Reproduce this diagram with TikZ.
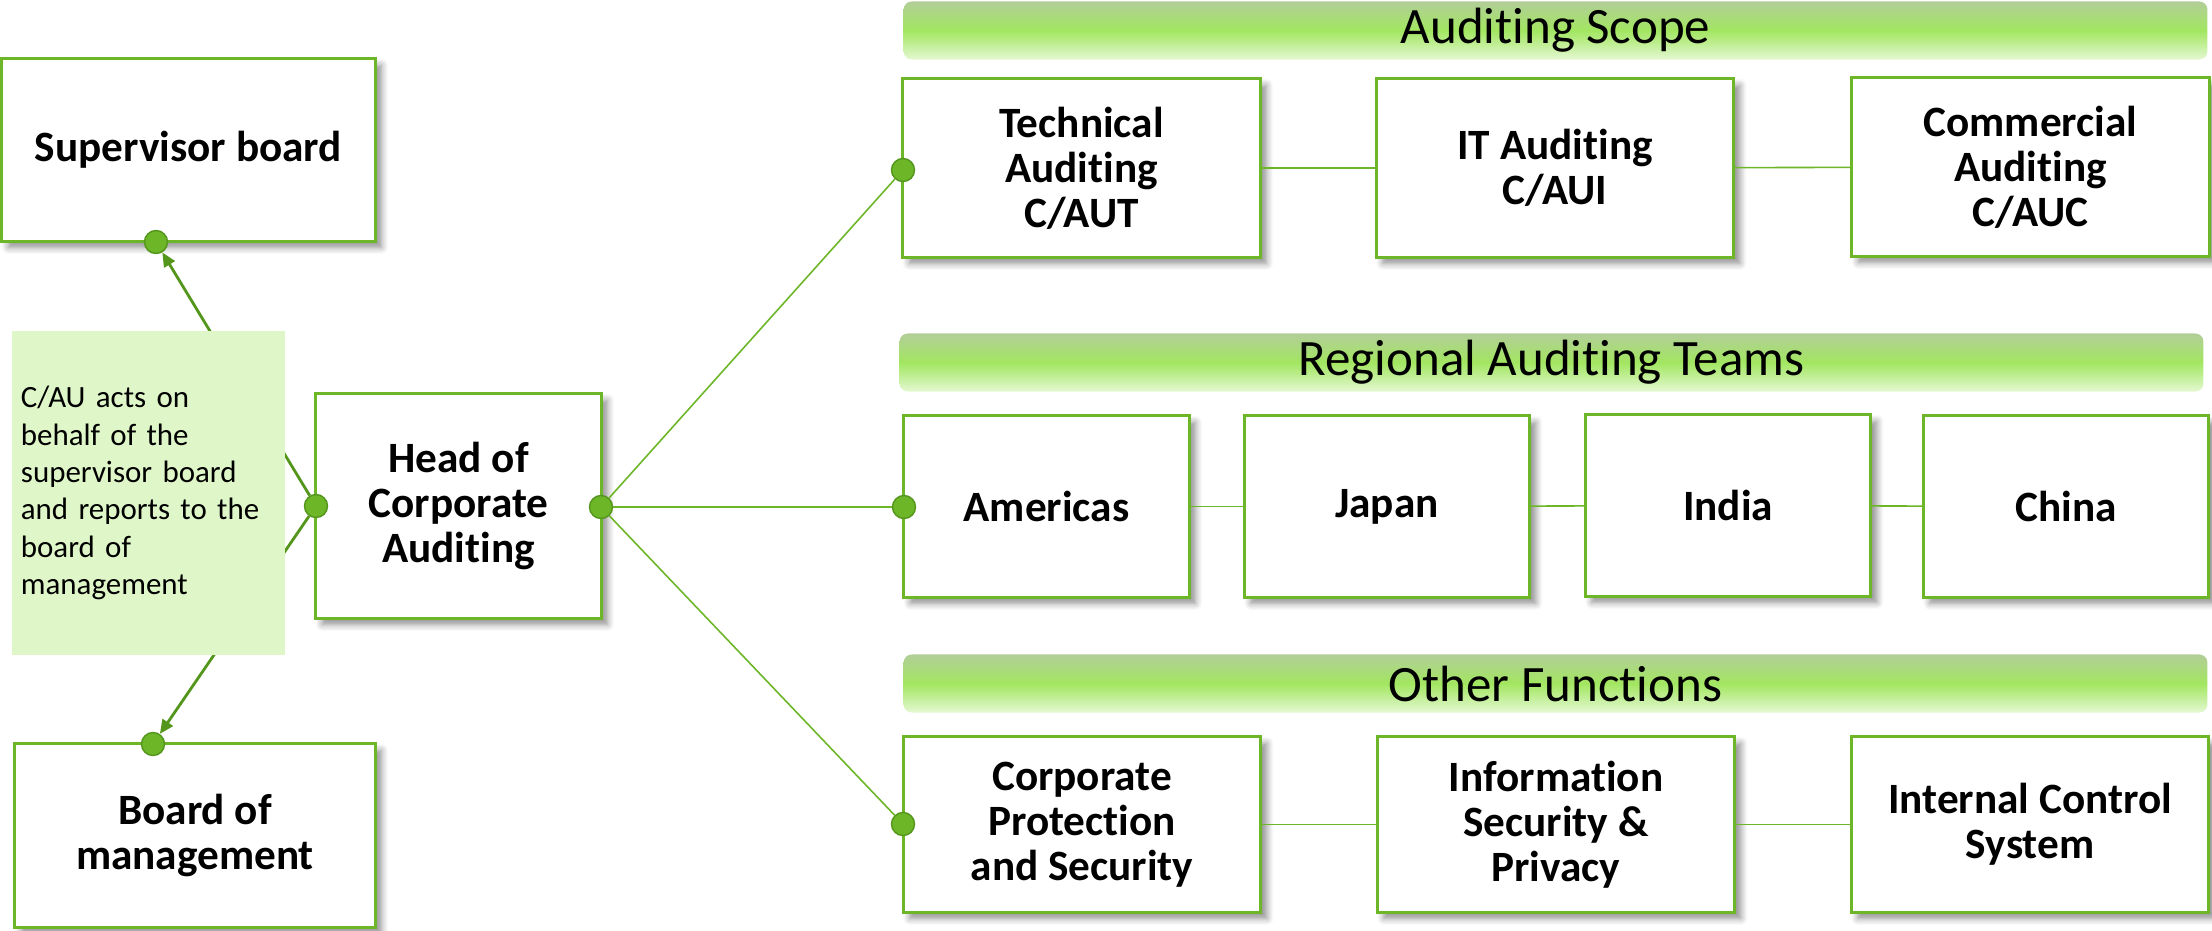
\documentclass[tikz,border=0pt]{standalone}
\usepackage{fontspec}
\setmainfont{Carlito}[Ligatures=NoCommon]
\usetikzlibrary{shadows.blur,arrows.meta}
\definecolor{auGreen}{RGB}{108,182,40}
\definecolor{auDark}{RGB}{84,150,28}
\definecolor{noteFill}{RGB}{223,247,200}
\definecolor{banTop}{RGB}{178,206,152}
\definecolor{banMid}{RGB}{162,230,96}
\definecolor{banBot}{RGB}{228,248,210}

\begin{document}
\begin{tikzpicture}[x=0.01cm, y=-0.01cm,
  box/.style={draw=auGreen, line width=0.85pt, fill=white, align=center,
    font=\bfseries\fontsize{12.3}{12.8}\selectfont,
    blur shadow={shadow xshift=1.8pt, shadow yshift=-1.8pt, shadow blur steps=6, shadow opacity=45}},
  wide/.style={box, minimum width=3.57cm, minimum height=1.78cm},
  region/.style={box, minimum width=2.85cm, minimum height=1.81cm},
  banner/.style={rounded corners=0.08cm, top color=banTop, bottom color=banBot, middle color=banMid,
    minimum width=13.03cm, minimum height=0.58cm, inner sep=0pt, font=\fontsize{14.5}{17}\selectfont},
  dot/.style={circle, fill=auGreen, draw=auDark, line width=0.4pt, minimum size=0.23cm, inner sep=0pt},
  link/.style={draw=auGreen, line width=0.45pt},
  arr/.style={draw=auDark, line width=0.8pt, -{Triangle[length=4pt,width=3.5pt]}}]
\useasboundingbox (0,0) rectangle (2212,930);

\node[box, minimum width=3.73cm, minimum height=1.82cm] (sup) at (188.5,150) {Supervisor board};
\node[box, minimum width=3.60cm, minimum height=1.83cm] (bom) at (195,835.5) {Board of\\management};
\node[box, minimum width=2.85cm, minimum height=2.24cm] (head) at (458.5,506) {Head of\\Corporate\\Auditing};

\node[banner] (scope) at (1555.5,30.5) {Auditing Scope};
\node[wide] (tech) at (1081.5,168) {Technical\\Auditing\\C/AUT};
\node[wide] (itAud) at (1555,168) {IT Auditing\\C/AUI};
\node[wide] (comm) at (2030.5,167) {Commercial\\Auditing\\C/AUC};

\node[banner] (regional) at (1551.5,362.5) {Regional Auditing Teams};
\node[region] (amer) at (1046.5,506.5) {Americas};
\node[region] (japan) at (1387,506.5) {Japan};
\node[region] (india) at (1728,505.5) {India};
\node[region] (china) at (2066,506.5) {China};

\node[banner] (other) at (1555.5,683.5) {Other Functions};
\node[wide, minimum height=1.75cm] (corp) at (1082,824.5) {Corporate\\Protection\\and Security};
\node[wide, minimum height=1.75cm] (info) at (1556,824.5) {Information\\Security \&\\Privacy};
\node[wide, minimum height=1.75cm] (ics) at (2030,824.5) {Internal Control\\System};

\node[dot] (supDot) at (156,242) {};
\node[dot] (bomDot) at (153,744) {};
\node[dot] (headL) at (316,506) {};
\node[dot] (headR) at (601,507) {};
\node[dot] (techDot) at (903,170) {};
\node[dot] (amerDot) at (904,507) {};
\node[dot] (corpDot) at (903,824) {};

\draw[link] (tech) -- (itAud);
\draw[link] (itAud) -- (comm);
\draw[link] (amer) -- (japan);
\draw[link] (japan) -- (india);
\draw[link] (india) -- (china);
\draw[link] (corp) -- (info);
\draw[link] (info) -- (ics);
\draw[link] (headR) -- (techDot);
\draw[link] (headR) -- (amerDot);
\draw[link] (headR) -- (corpDot);
\draw[arr] (headL) -- (supDot);
\draw[arr] (headL) -- (bomDot);

\node[fill=noteFill, minimum width=2.73cm, minimum height=3.24cm, text width=2.55cm, align=left,
  inner sep=0.09cm, font=\fontsize{8.8}{10.6}\selectfont] (note) at (148.5,493)
  {C/AU acts on\\behalf of the\\supervisor board\\and reports to the\\board of\\management};
\end{tikzpicture}
\end{document}
